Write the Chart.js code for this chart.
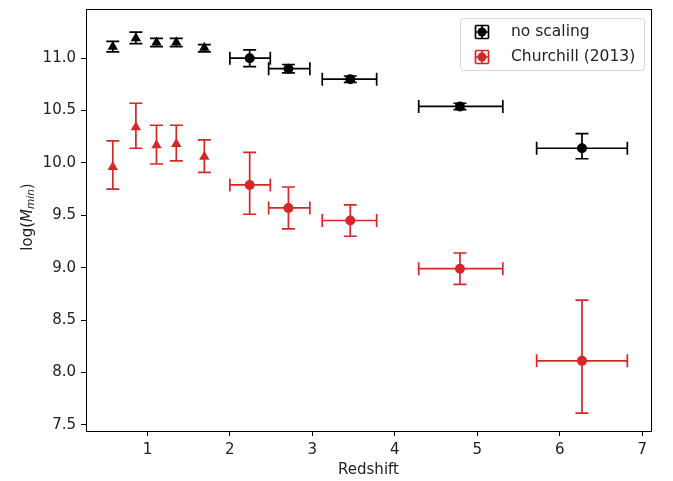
<!DOCTYPE html>
<html lang="en">
<head>
  <meta charset="UTF-8" />
  <title>Minimum halo mass vs redshift</title>
  <script src="https://cdn.jsdelivr.net/npm/chart.js"></script>
  <style>
    * { margin: 0; padding: 0; box-sizing: border-box; }
    body { background: #fff; }
    .wrap { width: 673px; height: 481px; position: relative; }
  </style>
</head>
<body>
  <div class="wrap"><canvas id="chart"></canvas></div>

  <script>
    // Data
    const redshift   = [0.58, 0.86, 1.11, 1.35, 1.69, 2.24, 2.71, 3.46, 4.79, 6.27];
    const zErrLo     = [0, 0, 0, 0, 0, 0.24, 0.24, 0.34, 0.50, 0.55];
    const zErrHi     = [0, 0, 0, 0, 0, 0.25, 0.26, 0.32, 0.52, 0.55];
    const markers    = ['triangle', 'triangle', 'triangle', 'triangle', 'triangle',
                        'circle', 'circle', 'circle', 'circle', 'circle'];

    const noScaling      = [11.11, 11.19, 11.15, 11.15, 11.10, 11.00, 10.90, 10.80, 10.54, 10.14];
    const noScalingErrLo = [0.05, 0.05, 0.04, 0.04, 0.04, 0.08, 0.04, 0.03, 0.03, 0.10];
    const noScalingErrHi = [0.05, 0.06, 0.04, 0.04, 0.03, 0.08, 0.04, 0.03, 0.03, 0.14];

    const churchill      = [9.96, 10.34, 10.17, 10.18, 10.06, 9.79, 9.57, 9.45, 8.99, 8.11];
    const churchillErrLo = [0.21, 0.20, 0.18, 0.16, 0.15, 0.28, 0.20, 0.15, 0.15, 0.50];
    const churchillErrHi = [0.25, 0.23, 0.19, 0.18, 0.16, 0.31, 0.20, 0.15, 0.15, 0.58];

    const xTicks = [1, 2, 3, 4, 5, 6, 7];
    const yTicks = [7.5, 8.0, 8.5, 9.0, 9.5, 10.0, 10.5, 11.0];

    const RED = '#d62728';
    const FONT = "'DejaVu Sans', sans-serif";

    function points(ys, lo, hi) {
      return redshift.map((z, i) => ({
        x: z, y: ys[i], xLo: zErrLo[i], xHi: zErrHi[i], yLo: lo[i], yHi: hi[i]
      }));
    }

    // error bars drawn through the chart scales
    const errorBars = {
      id: 'errorBars',
      beforeDatasetsDraw(chart) {
        const { ctx, scales: { x, y } } = chart;
        const cap = 6.5;
        chart.data.datasets.forEach(ds => {
          ctx.save();
          ctx.strokeStyle = ds.errColor;
          ctx.lineWidth = 1.7;
          ds.data.forEach(p => {
            const cx = x.getPixelForValue(p.x);
            const cy = y.getPixelForValue(p.y);
            const top = y.getPixelForValue(p.y + p.yHi);
            const bot = y.getPixelForValue(p.y - p.yLo);
            ctx.beginPath();
            ctx.moveTo(cx, top); ctx.lineTo(cx, bot);
            ctx.moveTo(cx - cap, top); ctx.lineTo(cx + cap, top);
            ctx.moveTo(cx - cap, bot); ctx.lineTo(cx + cap, bot);
            if (p.xLo || p.xHi) {
              const l = x.getPixelForValue(p.x - p.xLo);
              const r = x.getPixelForValue(p.x + p.xHi);
              ctx.moveTo(l, cy); ctx.lineTo(r, cy);
              ctx.moveTo(l, cy - cap); ctx.lineTo(l, cy + cap);
              ctx.moveTo(r, cy - cap); ctx.lineTo(r, cy + cap);
            }
            ctx.stroke();
          });
          ctx.restore();
        });
      },
      afterDraw(chart) {
        const { ctx, chartArea: a } = chart;
        ctx.save();
        // frame
        ctx.strokeStyle = '#000';
        ctx.lineWidth = 1;
        ctx.strokeRect(a.left + 0.5, a.top + 0.5, a.right - a.left, a.bottom - a.top);

        // y axis title with subscript
        ctx.translate(28, 217);
        ctx.rotate(-Math.PI / 2);
        ctx.fillStyle = '#222';
        ctx.textBaseline = 'middle';
        const parts = [
          { t: 'log(', f: '15px ' + FONT, dy: 0 },
          { t: 'M', f: 'italic 15px ' + FONT, dy: 0 },
          { t: 'min', f: 'italic 10.5px ' + FONT, dy: 3.5 },
          { t: ')', f: '15px ' + FONT, dy: 0 }
        ];
        let w = 0;
        parts.forEach(p => { ctx.font = p.f; w += ctx.measureText(p.t).width; });
        let px = -w / 2;
        parts.forEach(p => {
          ctx.font = p.f;
          ctx.fillText(p.t, px, p.dy);
          px += ctx.measureText(p.t).width;
        });
        ctx.restore();

        // legend
        ctx.save();
        const bx = 460, by = 18, bw = 184, bh = 52;
        ctx.fillStyle = 'rgba(255,255,255,0.8)';
        ctx.strokeStyle = '#d6d6d6';
        ctx.lineWidth = 1;
        ctx.beginPath();
        ctx.roundRect(bx + 0.5, by + 0.5, bw, bh, 3);
        ctx.fill();
        ctx.stroke();
        chart.data.datasets.forEach((ds, i) => {
          const cx = 482, cy = 32 + i * 25, h = 6.5;
          ctx.strokeStyle = ds.errColor;
          ctx.lineWidth = 1.7;
          ctx.beginPath();
          ctx.moveTo(cx - h, cy); ctx.lineTo(cx + h, cy);
          ctx.moveTo(cx, cy - h); ctx.lineTo(cx, cy + h);
          ctx.moveTo(cx - h, cy - h); ctx.lineTo(cx - h, cy + h);
          ctx.moveTo(cx + h, cy - h); ctx.lineTo(cx + h, cy + h);
          ctx.moveTo(cx - h, cy - h); ctx.lineTo(cx + h, cy - h);
          ctx.moveTo(cx - h, cy + h); ctx.lineTo(cx + h, cy + h);
          ctx.stroke();
          ctx.fillStyle = ds.backgroundColor;
          ctx.beginPath();
          ctx.arc(cx, cy, 4.5, 0, Math.PI * 2);
          ctx.fill();
          ctx.fillStyle = '#222';
          ctx.font = '15.5px ' + FONT;
          ctx.textBaseline = 'middle';
          ctx.fillText(ds.label, 511, cy);
        });
        ctx.restore();
      }
    };

    new Chart(document.getElementById('chart'), {
      type: 'scatter',
      data: {
        datasets: [
          {
            label: 'no scaling',
            data: points(noScaling, noScalingErrLo, noScalingErrHi),
            backgroundColor: '#000',
            borderColor: '#000',
            errColor: '#000',
            pointStyle: markers,
            pointRadius: markers.map(m => m === 'circle' ? 5 : 6),
            borderWidth: 0
          },
          {
            label: 'Churchill (2013)',
            data: points(churchill, churchillErrLo, churchillErrHi),
            backgroundColor: RED,
            borderColor: RED,
            errColor: RED,
            pointStyle: markers,
            pointRadius: markers.map(m => m === 'circle' ? 5 : 6),
            borderWidth: 0
          }
        ]
      },
      options: {
        responsive: true,
        maintainAspectRatio: false,
        animation: false,
        layout: { padding: { top: 9, right: 22, left: 0, bottom: 0 } },
        plugins: {
          legend: { display: false },
          tooltip: { enabled: false }
        },
        scales: {
          x: {
            type: 'linear',
            min: 0.255,
            max: 7.107,
            afterFit: s => { s.height = 50; s.paddingLeft = 0; s.paddingRight = 0; },
            afterBuildTicks: s => { s.ticks = xTicks.map(v => ({ value: v })); },
            ticks: {
              color: '#222',
              font: { family: FONT, size: 15 },
              padding: 5,
              maxRotation: 0,
              callback: v => String(v)
            },
            grid: { drawOnChartArea: false, tickLength: 5, color: '#000' },
            border: { color: '#000' },
            title: {
              display: true,
              text: 'Redshift',
              color: '#222',
              font: { family: FONT, size: 15 },
              padding: { top: 0, bottom: 2 }
            }
          },
          y: {
            type: 'linear',
            min: 7.44,
            max: 11.47,
            afterFit: s => { s.width = 86; s.paddingTop = 0; s.paddingBottom = 0; },
            afterBuildTicks: s => { s.ticks = yTicks.map(v => ({ value: v })); },
            ticks: {
              color: '#222',
              font: { family: FONT, size: 15 },
              padding: 5,
              callback: v => v.toFixed(1)
            },
            grid: { drawOnChartArea: false, tickLength: 5, color: '#000' },
            border: { color: '#000' }
          }
        }
      },
      plugins: [errorBars]
    });
  </script>
</body>
</html>
